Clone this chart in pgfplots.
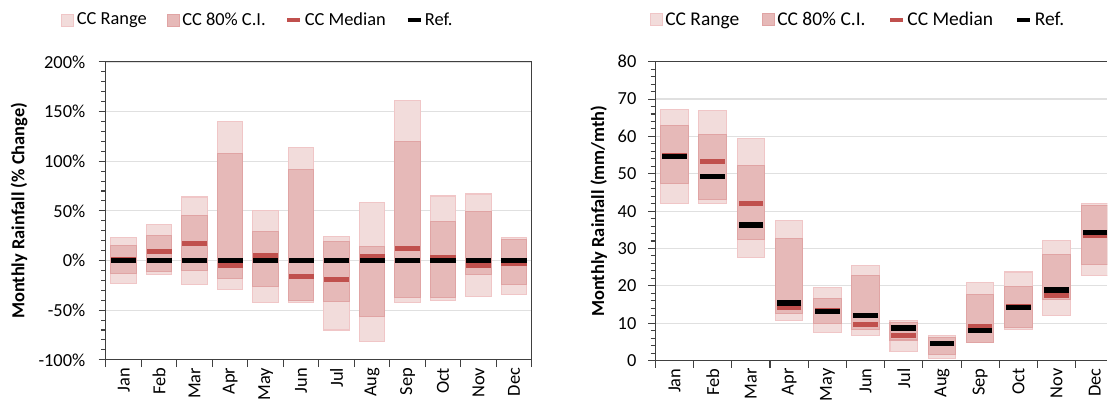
\documentclass[border=0pt]{standalone}
\usepackage{fontspec}
\setmainfont{Carlito}
\usepackage{pgfplots}
\usepackage{pgfplotstable}
\pgfplotsset{compat=1.18}
\definecolor{rangefill}{HTML}{F2DCDB}
\definecolor{rangedraw}{HTML}{F0C6C7}
\definecolor{cifill}{HTML}{E6B9B8}
\definecolor{cidraw}{HTML}{E0A4A4}
\definecolor{medred}{HTML}{C0504D}
\definecolor{gridgray}{HTML}{E0E0E0}
\definecolor{axisgray}{HTML}{404040}
\newcommand\myfs{\fontsize{13.8}{16}\selectfont}
\newcommand\myfsl{\fontsize{14.6}{17}\selectfont}

% month rangeLo rangeHi ciLo ciHi median ref
\pgfplotstableread{
m rlo rhi clo chi med ref
1 -23 23 -13 15 0.5 0
2 -14 36 -11 25 9 0
3 -24 64 -10 45 17 0
4 -29 140 -18 108 -5 0
5 -42 50 -26 29 5 0
6 -42 114 -40 92 -16 0
7 -70 24 -41 19 -19 0
8 -82 58 -56 14 3.5 0
9 -42 161 -37 120 12 0
10 -40 65 -37 39 2.5 0
11 -36 67 -14 49 -5 0
12 -34 23 -24 21 -3 0
}\leftdata

\pgfplotstableread{
m rlo rhi clo chi med ref
1 42.0 67.2 47.3 62.9 54.8 54.6
2 42.0 66.9 43.1 60.6 53.2 49.2
3 27.5 59.4 32.3 52.1 42.0 36.3
4 10.8 37.5 12.7 32.6 14.3 15.4
5 7.4 19.6 9.8 16.7 13.4 13.2
6 6.8 25.4 8.2 22.7 9.6 12.0
7 2.3 10.8 5.5 10.2 6.7 8.7
8 0.6 6.8 1.7 6.2 4.6 4.5
9 4.9 21.0 4.9 17.8 9.2 8.1
10 8.4 23.7 8.9 19.7 14.4 14.1
11 12.1 32.1 16.3 28.5 17.4 18.9
12 22.7 42.0 25.8 41.4 33.4 34.3
}\rightdata

\pgfplotsset{
  common/.style={
    scale only axis,
    xmin=0.5,
    xtick={0.5,1.5,...,12.5}, xticklabels={},
    extra x ticks={1,...,12},
    extra x tick labels={Jan,Feb,Mar,Apr,May,Jun,Jul,Aug,Sep,Oct,Nov,Dec},
    extra x tick style={major tick length=0pt},
    x tick label style={rotate=90, anchor=east},
    xticklabel shift=2.5pt,
    xtick pos=bottom, ytick pos=left,
    tick align=outside,
    major tick length=5.5pt, minor tick length=3.5pt,
    minor y tick num=4,
    ymajorgrids,
    major grid style={draw=gridgray, line width=0.9pt},
    axis line style={draw=axisgray, line width=0.8pt},
    tick style={draw=axisgray, line width=0.8pt},
    stack plots=y,
    reverse stacked plots=false,
    tick label style={font=\myfs},
    /pgf/number format/assume math mode=true,
    legend style={draw=none, fill=none, legend columns=4, font=\myfs,
      /tikz/every even column/.append style={column sep=13pt}, anchor=center},
    legend cell align=left,
  },
  invis/.style={ybar, bar width=0.72, bar shift=0pt, draw=none, fill=none, forget plot},
  rangebar/.style={ybar, bar width=0.72, bar shift=0pt, draw=rangedraw, fill=rangefill, line width=0.8pt,
    legend image code/.code={\draw[draw=rangedraw, fill=rangefill, line width=0.6pt] (0pt,-4.5pt) rectangle (9pt,4.5pt);}},
  cibar/.style={ybar, bar width=0.72, bar shift=0pt, draw=cidraw, fill=cifill, line width=0.8pt,
    legend image code/.code={\draw[draw=cidraw, fill=cifill, line width=0.6pt] (0pt,-4.5pt) rectangle (9pt,4.5pt);}},
  medmark/.style={stack plots=false, only marks, mark=-, mark size=#1,
    mark options={line width=3.9pt, draw=medred},
    legend image code/.code={\draw[medred, line width=2.6pt] (0pt,0pt) -- (9.75pt,0pt);}},
  refmark/.style={stack plots=false, only marks, mark=-, mark size=#1,
    mark options={line width=3.9pt, draw=black},
    legend image code/.code={\draw[black, line width=2.6pt] (0pt,0pt) -- (9.75pt,0pt);}},
}

\begin{document}
\begin{tikzpicture}
\path (0,0) rectangle (831pt,305.25pt);

% ---------- left chart ----------
\begin{axis}[common,
  at={(79.5pt,35.25pt)}, anchor=south west,
  width=319.5pt, height=223.5pt,
  xmax=12.5,
  ymin=-100, ymax=200, ytick={-100,-50,...,200},
  yticklabel={\pgfmathprintnumber{\tick}\%},
  y tick label style={xshift=-6.5pt},
  ylabel={\myfs\bfseries Monthly Rainfall (\% Change)},
  every axis y label/.style={at={(axis description cs:-0.2042,0.5)}, rotate=90, anchor=center},
  legend style={at={(0.358,1.141)}},
]
\addplot[invis] table[x=m, y=rlo] {\leftdata};
\addplot[rangebar] table[x=m, y expr=\thisrow{rhi}-\thisrow{rlo}] {\leftdata};
\addlegendentry{CC Range}
\addplot[invis] table[x=m, y expr=\thisrow{clo}-\thisrow{rhi}] {\leftdata};
\addplot[cibar] table[x=m, y expr=\thisrow{chi}-\thisrow{clo}] {\leftdata};
\addlegendentry{CC 80\% C.I.}
\addplot[medmark=9.4pt] table[x=m, y=med] {\leftdata};
\addlegendentry{CC Median}
\addplot[refmark=9.4pt] table[x=m, y=ref] {\leftdata};
\addlegendentry{Ref.}
\end{axis}

% ---------- right chart (cut at the right edge) ----------
\begin{axis}[common,
  at={(491.8pt,34.7pt)}, anchor=south west,
  width=339.2pt, height=224.25pt,
  xmax=12.33,
  axis x line*=box, axis y line*=left,
  ymin=0, ymax=80, ytick={0,10,...,80},
  y tick label style={xshift=-5.25pt},
  ylabel={\myfs\bfseries Monthly Rainfall (mm/mth)},
  every axis y label/.style={at={(axis description cs:-0.1254,0.5)}, rotate=90, anchor=center},
  legend style={at={(0.449,1.140)}, font=\myfsl,
    /tikz/every even column/.append style={column sep=15pt}},
]
\addplot[invis] table[x=m, y=rlo] {\rightdata};
\addplot[rangebar] table[x=m, y expr=\thisrow{rhi}-\thisrow{rlo}] {\rightdata};
\addlegendentry{CC Range}
\addplot[invis] table[x=m, y expr=\thisrow{clo}-\thisrow{rhi}] {\rightdata};
\addplot[cibar] table[x=m, y expr=\thisrow{chi}-\thisrow{clo}] {\rightdata};
\addlegendentry{CC 80\% C.I.}
\addplot[medmark=9.2pt] table[x=m, y=med] {\rightdata};
\addlegendentry{CC Median}
\addplot[refmark=9.2pt] table[x=m, y=ref] {\rightdata};
\addlegendentry{Ref.}
\end{axis}
\end{tikzpicture}
\end{document}
